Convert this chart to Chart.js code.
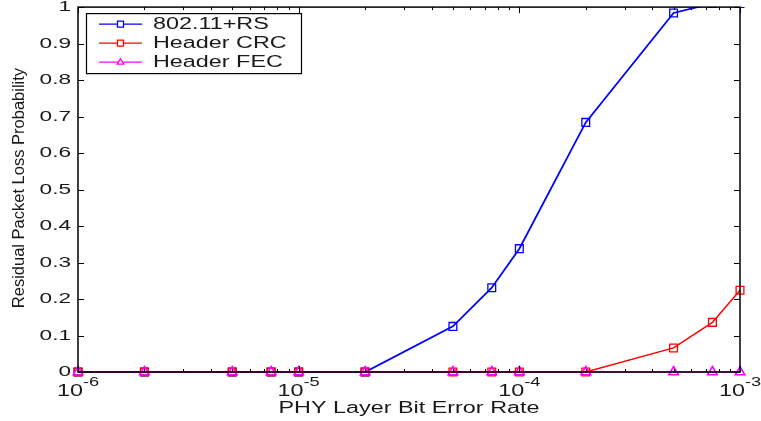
<!DOCTYPE html>
<html lang="en">
<head>
  <meta charset="UTF-8">
  <title>Residual Packet Loss Probability</title>
  <style>
    html, body { margin: 0; padding: 0; background: #fff; }
    canvas { display: block; }
  </style>
</head>
<body>
  <canvas id="lossChart" width="761" height="421"></canvas>

  <script src="https://cdn.jsdelivr.net/npm/chart.js"></script>
  <script>
    // bit error rates on the x axis
    const berValues = [1e-6, 2e-6, 5e-6, 7.5e-6, 1e-5, 2e-5, 5e-5, 7.5e-5, 1e-4, 2e-4, 5e-4, 7.5e-4, 1e-3];
    const rsValues  = [0, 0, 0, 0, 0, 0, 0.125, 0.231, 0.338, 0.684, 0.984, 1.01, 1.01];
    const crcValues = [0, 0, 0, 0, 0, 0, 0, 0, 0, 0, 0.066, 0.136, 0.224];
    const fecValues = [0, 0, 0, 0, 0, 0, 0, 0, 0, 0, 0, 0, 0];

    const seriesLabels = ['802.11+RS', 'Header CRC', 'Header FEC'];
    const xTickValues = [1e-6, 1e-5, 1e-4, 1e-3];
    const xTickExponents = ['-6', '-5', '-4', '-3'];
    const yTickValues = [0, 0.1, 0.2, 0.3, 0.4, 0.5, 0.6, 0.7, 0.8, 0.9, 1];
    const yTickLabels = ['0', '0.1', '0.2', '0.3', '0.4', '0.5', '0.6', '0.7', '0.8', '0.9', '1'];
    const xTitle = 'PHY Layer Bit Error Rate';
    const yTitle = 'Residual Packet Loss Probability';

    const FONT = '"Liberation Sans", Arial, sans-serif';
    const SX = 1.46; // the original text is stretched sideways
    const TEXT = '#1a1a1a';

    const toPoints = vals => berValues.map((b, i) => ({ x: b, y: vals[i] }));
    const plotClip = { left: 10, right: 10, top: 0, bottom: 10 };

    function wideText(ctx, text, x, y, size, align) {
      ctx.font = size + 'px ' + FONT;
      const w = ctx.measureText(text).width * SX;
      const x0 = align === 'right' ? x - w : align === 'center' ? x - w / 2 : x;
      ctx.save();
      ctx.translate(x0, y);
      ctx.scale(SX, 1);
      ctx.textAlign = 'left';
      ctx.fillText(text, 0, 0);
      ctx.restore();
      return w;
    }

    function marker(ctx, style, x, y, r, color) {
      ctx.save();
      ctx.strokeStyle = color;
      ctx.fillStyle = '#fff';
      ctx.lineWidth = 1.3;
      ctx.beginPath();
      if (style === 'rect') {
        ctx.rect(x - r, y - r, 2 * r, 2 * r);
      } else {
        ctx.moveTo(x, y - r * 1.1);
        ctx.lineTo(x + r * 1.1, y + r * 0.7);
        ctx.lineTo(x - r * 1.1, y + r * 0.7);
        ctx.closePath();
      }
      ctx.fill();
      ctx.stroke();
      ctx.restore();
    }

    const frameAndText = {
      id: 'frameAndText',
      afterDatasetsDraw(chart) {
        const { ctx, chartArea: a, scales: { x, y } } = chart;
        ctx.save();
        ctx.strokeStyle = '#000';
        ctx.lineWidth = 1.5;
        ctx.strokeRect(a.left, a.top, a.right - a.left, a.bottom - a.top);

        ctx.lineWidth = 1;
        ctx.beginPath();
        yTickValues.forEach(v => {
          const py = Math.round(y.getPixelForValue(v)) + 0.5;
          ctx.moveTo(a.left, py); ctx.lineTo(a.left + 6, py);
          ctx.moveTo(a.right, py); ctx.lineTo(a.right - 6, py);
        });
        xTickValues.forEach((d, i) => {
          const mults = i < xTickValues.length - 1 ? [1, 2, 3, 4, 5, 6, 7, 8, 9] : [1];
          mults.forEach(m => {
            const px = Math.round(x.getPixelForValue(d * m)) + 0.5;
            const len = m === 1 ? 6 : 3;
            ctx.moveTo(px, a.bottom); ctx.lineTo(px, a.bottom - len);
            ctx.moveTo(px, a.top); ctx.lineTo(px, a.top + len);
          });
        });
        ctx.stroke();

        ctx.fillStyle = TEXT;
        ctx.textBaseline = 'middle';
        yTickValues.forEach((v, i) => {
          wideText(ctx, yTickLabels[i], a.left - 7, y.getPixelForValue(v), 15.5, 'right');
        });

        ctx.textBaseline = 'alphabetic';
        xTickValues.forEach((d, i) => {
          const px = x.getPixelForValue(d);
          ctx.font = '16px ' + FONT;
          const w1 = ctx.measureText('10').width * SX;
          ctx.font = '12.5px ' + FONT;
          const w2 = ctx.measureText(xTickExponents[i]).width * SX;
          const x0 = px - (w1 + w2) / 2;
          wideText(ctx, '10', x0, a.bottom + 24, 16, 'left');
          wideText(ctx, xTickExponents[i], x0 + w1, a.bottom + 14, 12.5, 'left');
        });

        wideText(ctx, xTitle, (a.left + a.right) / 2, a.bottom + 41, 16, 'center');

        ctx.save();
        ctx.translate(19.5, (a.top + a.bottom) / 2 - 1.5);
        ctx.rotate(-Math.PI / 2);
        ctx.font = '16.5px ' + FONT;
        ctx.textAlign = 'center';
        ctx.textBaseline = 'middle';
        ctx.fillText(yTitle, 0, 0);
        ctx.restore();

        // legend box
        const bx = a.left + 8, by = a.top + 6, bw = 215, bh = 60;
        ctx.fillStyle = '#fff';
        ctx.fillRect(bx, by, bw, bh);
        ctx.strokeStyle = '#000';
        ctx.lineWidth = 1.2;
        ctx.strokeRect(bx + 0.5, by + 0.5, bw, bh);
        chart.data.datasets.forEach((ds, i) => {
          const ry = by + 11 + i * 19;
          ctx.strokeStyle = ds.borderColor;
          ctx.lineWidth = 1.2;
          ctx.beginPath();
          ctx.moveTo(bx + 13, ry); ctx.lineTo(bx + 56, ry);
          ctx.stroke();
          marker(ctx, ds.pointStyle, bx + 34.5, ry, 3, ds.borderColor);
          ctx.fillStyle = TEXT;
          ctx.textBaseline = 'middle';
          wideText(ctx, ds.label, bx + 67, ry + 0.5, 16, 'left');
        });
        ctx.restore();
      }
    };

    const ctx = document.getElementById('lossChart').getContext('2d');
    new Chart(ctx, {
      type: 'line',
      data: {
        datasets: [
          {
            label: seriesLabels[0], data: toPoints(rsValues), order: 3,
            borderColor: '#0000ff', borderWidth: 1.8, pointStyle: 'rect', pointRadius: 5.5,
            pointBorderWidth: 1.3, pointBackgroundColor: 'rgba(0,0,0,0)', clip: plotClip
          },
          {
            label: seriesLabels[1], data: toPoints(crcValues), order: 2,
            borderColor: '#ff0000', borderWidth: 1.5, pointStyle: 'rect', pointRadius: 5.5,
            pointBorderWidth: 1.3, pointBackgroundColor: 'rgba(0,0,0,0)', clip: plotClip
          },
          {
            label: seriesLabels[2], data: toPoints(fecValues), order: 1,
            borderColor: '#ff00ff', borderWidth: 1.5, pointStyle: 'triangle', pointRadius: 5.5,
            pointBorderWidth: 1.6, pointBackgroundColor: 'rgba(0,0,0,0)', clip: plotClip
          }
        ]
      },
      options: {
        responsive: false,
        animation: false,
        layout: { padding: { top: 7, right: 21, bottom: 0, left: 0 } },
        elements: { line: { tension: 0 } },
        scales: {
          x: {
            type: 'logarithmic', min: 1e-6, max: 1e-3,
            ticks: { display: false }, grid: { display: false }, border: { display: false },
            afterFit(s) { s.height = 49; }
          },
          y: {
            type: 'linear', min: 0, max: 1,
            ticks: { display: false }, grid: { display: false }, border: { display: false },
            afterFit(s) { s.width = 78; }
          }
        },
        plugins: { legend: { display: false }, tooltip: { enabled: false } }
      },
      plugins: [frameAndText]
    });
  </script>
</body>
</html>
